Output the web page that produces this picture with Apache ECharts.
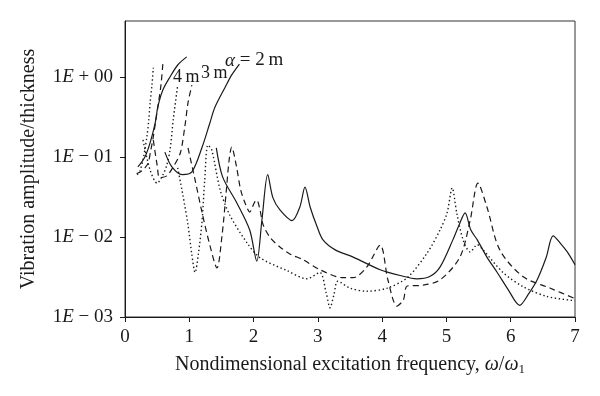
<!DOCTYPE html>
<html>
<head>
<meta charset="utf-8">
<script src="https://cdn.jsdelivr.net/npm/echarts@6/dist/echarts.min.js"></script>
<style>
  html, body { margin: 0; padding: 0; background: #fff; }
  #chart { width: 600px; height: 396px; }
</style>
</head>
<body>
<div id="chart"></div>
<script>
// axis settings
const xTicks = [0, 1, 2, 3, 4, 5, 6, 7];
const yExponents = [-3, -2, -1, 0];

// alpha = 2 m (solid), three branches
const solidA = [[0.20, 0.075], [0.31, 0.10], [0.39, 0.15], [0.47, 0.266], [0.51, 0.42], [0.59, 0.69], [0.70, 1.0], [0.82, 1.41], [0.96, 1.78]];
const solidB = [[0.62, 0.115], [0.73, 0.075], [0.89, 0.060], [1.04, 0.065], [1.20, 0.133], [1.32, 0.266], [1.40, 0.42], [1.56, 0.75], [1.66, 1.06], [1.78, 1.45]];
const solidC = [[1.42, 0.13], [1.52, 0.056], [1.74, 0.0266], [1.94, 0.0122], [2.05, 0.005], [2.13, 0.0163], [2.22, 0.060], [2.30, 0.031], [2.41, 0.0218],
  [2.60, 0.0160], [2.72, 0.0237], [2.80, 0.042], [2.88, 0.0237], [2.99, 0.0133], [3.08, 0.0092], [3.27, 0.0069], [3.55, 0.0056], [3.97, 0.0039],
  [4.28, 0.0033], [4.54, 0.0030], [4.74, 0.0032], [4.90, 0.0042], [5.10, 0.0092], [5.21, 0.015], [5.29, 0.020], [5.38, 0.0122], [5.48, 0.0092],
  [5.63, 0.0056], [5.79, 0.0036], [5.96, 0.0022], [6.14, 0.0014], [6.27, 0.0019], [6.41, 0.0029], [6.55, 0.0055], [6.66, 0.0103], [6.77, 0.0084],
  [6.88, 0.0065], [7.0, 0.0045]];

// alpha = 3 m (dashed)
const dashA = [[0.18, 0.062], [0.25, 0.066], [0.31, 0.073], [0.36, 0.084], [0.40, 0.12], [0.44, 0.178], [0.48, 0.29], [0.52, 0.47], [0.56, 0.80], [0.59, 1.5]];
const dashB = [[0.44, 0.163], [0.50, 0.079], [0.54, 0.055], [0.65, 0.058], [0.75, 0.075], [0.86, 0.112], [0.93, 0.237], [0.98, 0.473], [1.04, 0.79]];
const dashC = [[0.98, 0.13], [1.09, 0.0516], [1.20, 0.020], [1.32, 0.0079], [1.43, 0.0041], [1.51, 0.0106], [1.57, 0.0335], [1.62, 0.092], [1.66, 0.133],
  [1.73, 0.079], [1.80, 0.0387], [1.88, 0.0251], [1.94, 0.0205], [2.01, 0.0266], [2.05, 0.029], [2.10, 0.0218], [2.15, 0.0141], [2.26, 0.0098],
  [2.41, 0.0075], [2.57, 0.0061], [2.77, 0.0052], [3.03, 0.0039], [3.39, 0.0031], [3.55, 0.0031], [3.76, 0.0042], [3.97, 0.0079], [4.09, 0.0029],
  [4.23, 0.00137], [4.33, 0.00163], [4.39, 0.00244], [4.64, 0.0025], [4.90, 0.0029], [5.21, 0.0056], [5.37, 0.0163], [5.49, 0.047], [5.63, 0.0237],
  [5.83, 0.0069], [6.19, 0.0032], [6.61, 0.0023], [7.0, 0.0017]];

// alpha = 4 m (dotted)
const dotA = [[0.19, 0.060], [0.23, 0.066], [0.28, 0.092], [0.31, 0.125], [0.34, 0.178], [0.37, 0.29], [0.39, 0.47], [0.42, 0.80], [0.44, 1.3]];
const dotB = [[0.28, 0.163], [0.39, 0.069], [0.50, 0.047], [0.59, 0.060], [0.65, 0.079], [0.70, 0.122], [0.75, 0.29], [0.82, 0.79]];
const dotC = [[0.82, 0.073], [0.90, 0.0335], [0.98, 0.0141], [1.04, 0.006], [1.09, 0.0036], [1.14, 0.006], [1.20, 0.0163], [1.24, 0.0516], [1.29, 0.141],
  [1.35, 0.122], [1.48, 0.0387], [1.63, 0.0188], [1.90, 0.0084], [2.10, 0.0055], [2.52, 0.0038], [2.83, 0.0030], [3.03, 0.0036], [3.13, 0.0020],
  [3.19, 0.0013], [3.25, 0.0019], [3.31, 0.0028], [3.50, 0.0023], [3.76, 0.0021], [4.08, 0.0023], [4.39, 0.0031], [4.70, 0.0063], [4.90, 0.0122],
  [5.01, 0.020], [5.09, 0.041], [5.16, 0.020], [5.26, 0.0092], [5.37, 0.0065], [5.48, 0.008], [5.57, 0.0069], [5.88, 0.0036], [6.19, 0.0024],
  [6.57, 0.0018], [7.0, 0.0016]];

const FONT = '"Liberation Serif", "DejaVu Serif", serif';
const INK = '#1a1a1a';

function curve(data, dash) {
  return {
    type: 'line',
    data: data,
    showSymbol: false,
    smooth: 0.3,
    silent: true,
    lineStyle: { color: INK, width: dash === 'dot' ? 1.4 : 1.2, type: dash === 'dot' ? [1.4, 2.6] : dash === 'dash' ? [6, 4] : 'solid' }
  };
}

function yLabel(v) {
  const e = Math.log10(v);
  const r = Math.round(e);
  if (Math.abs(e - r) > 0.01 || yExponents.indexOf(r) < 0) return '';
  const sign = r < 0 ? '−' : '+';
  const digits = String(Math.abs(r)).padStart(2, '0');
  return '{n|1}{e|E}{n| ' + sign + ' ' + digits + '}';
}

const chart = echarts.init(document.getElementById('chart'));
chart.setOption({
  animation: false,
  backgroundColor: '#fff',
  grid: { left: 125, right: 25, top: 21, bottom: 79, show: true, borderColor: '#333', borderWidth: 1 },
  xAxis: {
    type: 'value', min: 0, max: 7, interval: 1,
    name: 'Nondimensional excitation frequency, {i|ω}/{i|ω}{s|1}',
    nameLocation: 'middle', nameGap: 37,
    nameTextStyle: {
      fontFamily: FONT, fontSize: 20, color: INK,
      rich: {
        i: { fontFamily: FONT, fontSize: 20, fontStyle: 'italic', color: INK },
        s: { fontFamily: FONT, fontSize: 13, color: INK, verticalAlign: 'bottom', padding: [9, 0, 0, 0] }
      }
    },
    axisLine: { lineStyle: { color: INK, width: 1 } },
    axisTick: { length: 5, lineStyle: { color: INK } },
    axisLabel: { fontFamily: FONT, fontSize: 19, color: INK, margin: 11, formatter: v => xTicks.indexOf(v) >= 0 ? String(v) : '' },
    splitLine: { show: false }
  },
  yAxis: {
    type: 'log', logBase: 10, min: 0.001, max: 5,
    name: 'Vibration amplitude/thickness',
    nameLocation: 'middle', nameGap: 86,
    nameTextStyle: { fontFamily: FONT, fontSize: 20, color: INK },
    axisLine: { show: true, lineStyle: { color: INK, width: 1 } },
    axisTick: { length: 5, lineStyle: { color: INK } },
    axisLabel: {
      showMaxLabel: false, margin: 12, formatter: yLabel,
      rich: {
        n: { fontFamily: FONT, fontSize: 19, color: INK },
        e: { fontFamily: FONT, fontSize: 19, color: INK, fontStyle: 'italic' }
      }
    },
    splitLine: { show: false }
  },
  graphic: [
    { type: 'text', left: 173, top: 68, style: { text: '4\u2009m', font: '18px ' + FONT, fill: INK } },
    { type: 'text', left: 201, top: 64, style: { text: '3\u2009m', font: '18px ' + FONT, fill: INK } },
    { type: 'text', left: 225, top: 51, style: { text: '{i|α} = 2\u2009m', font: '19px ' + FONT, fill: INK,
      rich: { i: { fontFamily: FONT, fontSize: 19, fontStyle: 'italic', fill: INK } } } }
  ],
  series: [
    curve(solidA, 'solid'), curve(solidB, 'solid'), curve(solidC, 'solid'),
    curve(dashA, 'dash'), curve(dashB, 'dash'), curve(dashC, 'dash'),
    curve(dotA, 'dot'), curve(dotB, 'dot'), curve(dotC, 'dot')
  ]
});
</script>
</body>
</html>
